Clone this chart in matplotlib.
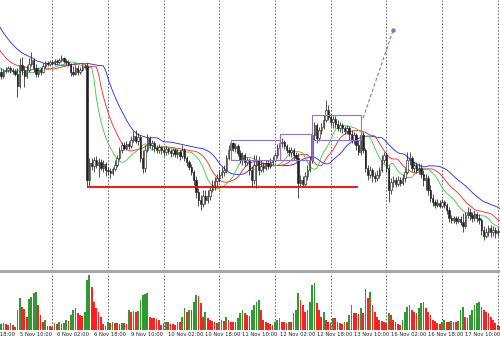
import numpy as np
import matplotlib
matplotlib.use("Agg")
import matplotlib.pyplot as plt
from matplotlib.patches import Rectangle
from matplotlib.transforms import blended_transform_factory

# ---------------- data (hourly bars, price in pips) ----------------
first_open = 228
close = [224,229,230,232,230,229,226,214,235,230,224,230,236,240,232,226,230,228,234,237,
         236,238,237,239,238,240,242,239,238,236,228,226,232,228,230,233,234,120,137,134,
         140,135,138,132,136,130,129,127,131,135,142,150,155,152,156,154,160,164,159,163,
         142,132,150,162,155,157,152,150,153,150,148,151,149,147,150,146,148,144,150,142,
         138,133,128,120,108,100,96,104,100,104,110,115,119,122,125,128,130,142,150,157,
         152,154,147,140,145,138,140,130,120,135,140,130,134,132,137,134,138,140,145,152,
         157,158,154,150,148,150,145,142,117,120,116,124,130,140,165,175,162,170,173,180,
         190,183,178,181,176,172,175,172,169,172,166,160,165,155,148,165,150,132,125,130,
         124,122,125,130,140,145,132,110,118,120,116,120,117,122,128,140,142,132,135,130,
         132,126,120,122,110,102,98,95,97,94,98,95,90,82,80,82,79,81,78,74,
         85,88,85,82,86,82,80,70,64,68,72,68,70,67,69,68]
high  = [232,231,233,234,234,232,231,232,242,243,234,235,242,248,242,236,233,233,237,239,
         239,240,240,241,241,242,245,243,241,240,237,234,235,235,233,236,236,237,142,142,
         143,144,142,141,140,138,133,132,133,140,145,153,158,158,159,159,164,169,170,167,
         165,150,155,166,164,160,159,155,156,154,153,154,153,151,152,152,151,150,155,152,
         144,140,136,130,124,112,105,110,110,110,114,120,123,126,130,133,135,145,155,160,
         158,157,156,150,148,147,143,142,134,145,145,144,140,138,140,140,142,144,148,156,
         160,162,160,156,153,153,152,148,147,125,124,128,135,144,175,178,177,173,177,185,
         200,195,186,184,184,180,178,177,174,175,174,170,168,167,160,185,168,152,135,134,
         132,128,130,133,145,148,148,135,122,124,123,124,123,126,132,148,148,144,138,138,
         137,136,130,126,125,115,106,101,101,100,101,100,97,93,85,84,84,84,84,87,
         88,93,92,88,90,88,86,82,74,72,75,75,74,73,72,72]
low   = [221,222,227,228,227,226,224,203,212,225,213,222,228,234,228,223,223,225,227,232,
         234,234,235,235,236,236,238,237,235,234,224,224,225,225,226,229,231,113,114,130,
         128,132,123,130,128,124,125,122,125,129,133,140,147,150,150,151,152,158,157,155,
         138,127,128,148,152,150,148,147,147,146,144,145,146,143,144,143,142,140,142,139,
         134,130,125,115,102,94,90,93,96,97,100,108,110,114,118,122,124,127,140,147,
         149,148,144,137,135,134,135,125,113,116,112,125,128,128,130,131,132,135,138,142,
         150,153,151,147,144,143,140,139,102,114,113,114,120,128,137,160,157,159,166,171,
         178,180,174,172,172,169,168,167,166,166,160,157,156,150,145,145,147,128,120,122,
         118,118,119,122,128,137,128,98,106,113,113,114,114,115,118,126,135,129,128,127,
         126,122,114,110,105,98,94,92,93,92,93,92,86,78,77,77,76,77,75,68,
         72,82,80,78,79,78,76,65,60,62,64,63,64,62,64,65]
volume = [6,7,6,5,7,5,3,20,32,23,21,13,31,33,37,38,25,15,8,10,
          4,4,3,7,6,8,6,7,10,9,15,20,22,17,15,14,18,50,55,43,
          28,22,18,13,6,4,8,7,8,7,7,6,7,7,6,20,18,19,18,19,
          30,35,36,37,13,12,12,11,10,5,7,8,8,6,6,5,8,8,13,22,
          18,20,20,28,35,34,27,13,18,12,10,9,8,7,8,10,9,13,10,8,
          8,8,12,17,20,17,15,14,20,25,28,30,20,10,8,7,6,5,8,10,
          12,8,8,7,8,8,17,20,37,30,25,18,20,28,45,47,27,20,13,18,
          10,8,7,12,12,8,7,6,8,8,15,25,17,17,16,22,17,41,32,38,
          25,18,13,10,9,8,7,17,15,10,8,6,5,10,18,23,25,20,18,17,
          22,27,28,22,18,15,10,9,7,6,8,10,8,8,9,8,8,9,20,23,
          13,12,15,20,25,27,28,23,20,18,17,13,10,7,5,4]
# median prices of the bars before the visible window (for the Alligator)
history_median = [295]*10 + [290,280,265,250,230,222] + [224]*9

day_starts = [22,46,70,94,118,142,166,190,214]
label_bars = [-8,8,24,40,56,72,88,104,120,136,152,168,184,200]
label_text = ["4 Nov 18:00","5 Nov 10:00","6 Nov 02:00","6 Nov 18:00","9 Nov 10:00",
              "10 Nov 02:00","10 Nov 18:00","11 Nov 10:00","12 Nov 02:00","12 Nov 18:00",
              "13 Nov 10:00","16 Nov 02:00","16 Nov 18:00","17 Nov 10:00"]

support_level = 113
support_bars = [37, 154]
boxes = [  # (start bar, end bar, low, high)
    (99, 120, 140, 160),
    (120, 134, 140, 166),
    (134, 155, 160, 185),
]
arrow_start = (156, 182)
arrow_end = (169, 270)

# ---------------- figure ----------------
W, H = 500, 342
fig = plt.figure(figsize=(W/100, H/100), dpi=100)
fig.patch.set_facecolor("white")
ax = fig.add_axes([0, (H-268)/H, 1, 268/H])
axv = fig.add_axes([0, (H-330)/H, 1, 57/H])
for a in (ax, axv):
    a.set_xlim(-0.5, 215.0)
    a.axis("off")
ax.set_ylim(32, 300)
axv.set_ylim(0, 57)

# separator band
fig.patches.append(Rectangle((0, (H-273)/H), 1, 3.5/H, transform=fig.transFigure,
                             facecolor="#a8a8a8", edgecolor="none"))

# day separators
for d in day_starts:
    for a in (ax, axv):
        a.axvline(d, color="#505050", lw=0.6, ls=(0, (2, 2)), zorder=0)

n = len(close)
idx = np.arange(n)
c = np.array(close, float)
hi = np.array(high, float)
lo = np.array(low, float)
o = np.concatenate([[first_open], c[:-1]])

# Alligator (SMMA of median price, shifted)
med = np.concatenate([history_median, (hi + lo) / 2])
midx = np.arange(-len(history_median), n)
def smma(x, p):
    out = np.empty_like(x)
    out[0] = x[0]
    for k in range(1, len(x)):
        out[k] = (out[k-1]*(p-1) + x[k]) / p
    return out
for per, sh, col in [(13, 8, "#2020ff"), (8, 5, "#ff2020"), (5, 3, "#30d030")]:
    ax.plot(midx + sh, smma(med, per), color=col, lw=0.6, zorder=2)

# candles
ax.vlines(idx, lo, hi, color="#202020", lw=0.55, zorder=3)
bull = c >= o
body_lo = np.minimum(o, c)
body_h = np.maximum(np.abs(c - o), 0.6)
ax.bar(idx[bull], body_h[bull], bottom=body_lo[bull], width=0.6,
       facecolor="white", edgecolor="#202020", linewidth=0.45, zorder=4)
ax.bar(idx[~bull], body_h[~bull], bottom=body_lo[~bull], width=0.6,
       facecolor="#202020", edgecolor="#202020", linewidth=0.45, zorder=4)

# support line
ax.hlines(support_level, support_bars[0], support_bars[1], color="#ff0000", lw=1.3, zorder=5)

# boxes
for b0, b1, l, h in boxes:
    ax.add_patch(Rectangle((b0, l), b1 - b0, h - l, fill=False, edgecolor="#9070c8",
                           lw=0.8, zorder=5))
ax.plot([arrow_start[0], arrow_end[0]], [arrow_start[1], arrow_end[1]],
        color="#9070c8", lw=0.8, ls=(0, (3, 2)), zorder=5)
ax.plot([arrow_end[0]], [arrow_end[1]], "o", color="#9070c8", ms=2.2, zorder=5)

# volumes
vol = np.array(volume, float)
up = np.concatenate([[True], vol[1:] > vol[:-1]])
axv.bar(idx[up], vol[up], width=0.75, color="#2f9a2f", zorder=2)
axv.bar(idx[~up], vol[~up], width=0.75, color="#ff2020", zorder=2)

# time labels
tr = blended_transform_factory(axv.transData, axv.transAxes)
for b, t in zip(label_bars, label_text):
    axv.text(b, -5/57, t, transform=tr, ha="left", va="center", fontsize=3.8,
             color="#202020", clip_on=False)

fig.savefig("out.png", dpi=100)
